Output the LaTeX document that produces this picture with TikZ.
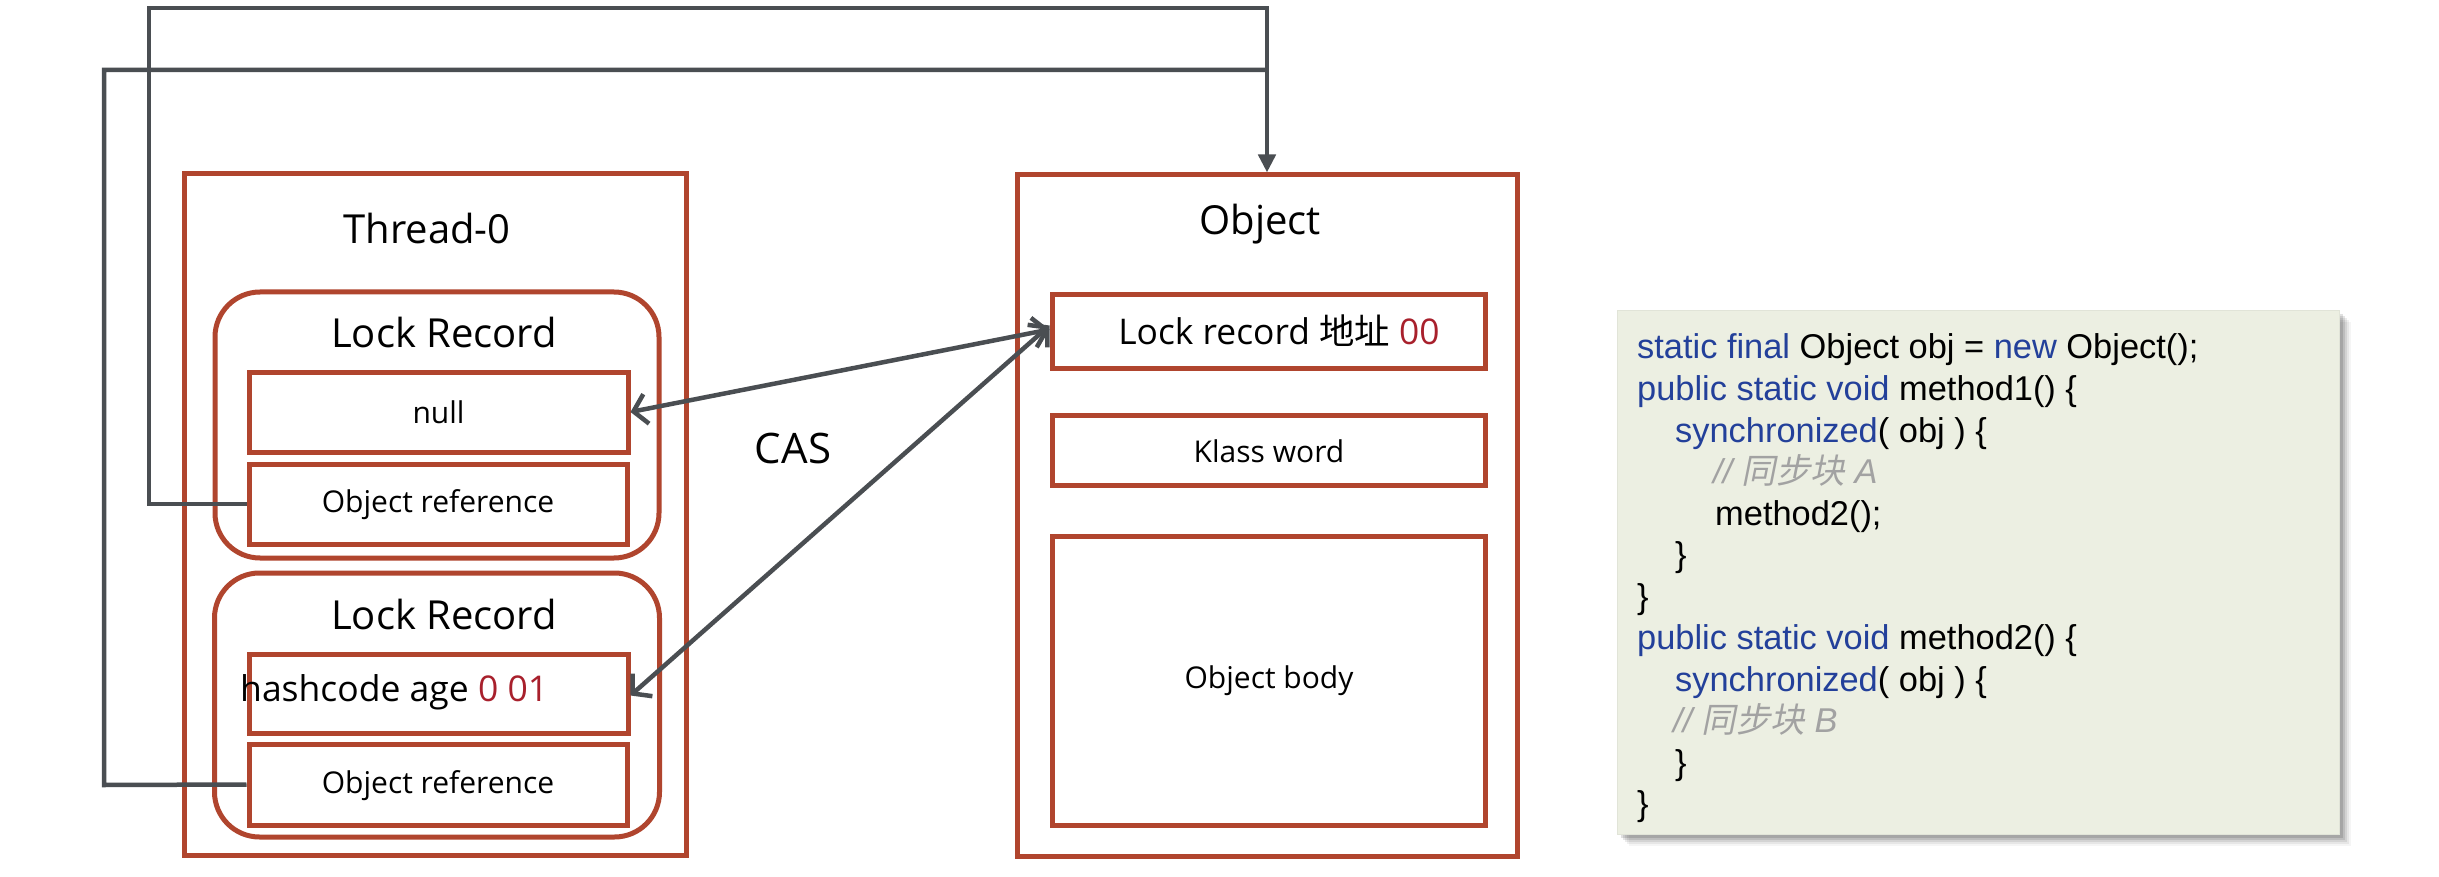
\documentclass[tikz,border=0pt]{standalone}
\usepackage{fontspec}
\setmainfont{Open Sans}
\newfontfamily\cjk{Noto Sans CJK SC}
\newfontfamily\codefont{Liberation Sans}
\newfontfamily\cjkslant[FakeSlant=0.2]{Noto Sans CJK SC}
\usetikzlibrary{arrows.meta,calc}
\definecolor{boxred}{HTML}{B0452E}
\definecolor{connc}{HTML}{4A4E52}
\definecolor{kw}{HTML}{23409A}
\definecolor{cmt}{HTML}{A2A2A2}
\definecolor{codebg}{HTML}{ECEFE2}
\definecolor{valred}{HTML}{A8202C}
\newcommand\kwd[1]{\textcolor{kw}{#1}}
\newcommand\fsz[1]{\fontsize{#1pt}{#1pt}\selectfont}
\begin{document}
\begin{tikzpicture}[x=1pt,y=-1pt,
  redbox/.style={draw=boxred, line width=5pt, fill=white, inner sep=0pt},
  roundbox/.style={redbox, rounded corners=45pt},
  title/.style={inner sep=0pt, font=\fsz{40}},
  small/.style={inner sep=0pt, font=\fsz{30}},
  conn/.style={draw=connc, line width=4.5pt},
  cas/.style={conn, {Straight Barb[length=13pt,width=30pt]}-{Straight Barb[length=13pt,width=30pt]}},
  codeline/.style={anchor=base west, inner sep=0pt, font=\codefont\fsz{34.4}}
]
\useasboundingbox (0,0) rectangle (2439,877);
\fill[white] (0,0) rectangle (2439,877);

% Thread-0 side
\node[redbox, minimum width=502pt, minimum height=681pt] (thread) at (435,514.5) {};
\node[title] (threadt) at (427,229) {Thread-0};
\node[roundbox, minimum width=444pt, minimum height=266pt] (lr1) at (437,425) {};
\node[title] (lr1t) at (444,333) {Lock Record};
\node[redbox, minimum width=379pt, minimum height=80pt] (null) at (438.5,412) {};
\node[small] at (438.5,412) {null};
\node[redbox, minimum width=378pt, minimum height=80pt] (or1) at (438,504) {};
\node[small] at (438,505) {Object reference};
\node[roundbox, minimum width=445pt, minimum height=264pt] (lr2) at (437,705) {};
\node[title] (lr2t) at (444,614) {Lock Record};
\node[redbox, minimum width=379pt, minimum height=79pt] (hash) at (438.5,693.5) {};
\node[inner sep=0pt, anchor=west, font=\fsz{35.5}] (hasht) at (240,692) {hashcode age \textcolor{valred}{0 01}};
\node[redbox, minimum width=378pt, minimum height=81pt] (or2) at (438,784.5) {};
\node[small] at (438,786) {Object reference};

% Object side
\node[redbox, minimum width=500pt, minimum height=681pt] (obj) at (1267,515.5) {};
\node[title] (objt) at (1260,224) {Object};
\node[redbox, minimum width=433pt, minimum height=73pt] (lrec) at (1268.5,331.5) {};
\node[inner sep=0pt, font=\fsz{35.4}] at (1279,331) {Lock record {\cjk 地址} \textcolor{valred}{00}};
\node[redbox, minimum width=433pt, minimum height=70pt] (klass) at (1268.5,450) {};
\node[small] at (1269,451) {Klass word};
\node[redbox, minimum width=433pt, minimum height=289pt] (body) at (1268.5,680.5) {};
\node[small] at (1269,681) {Object body};

\node[inner sep=0pt, font=\fsz{42}] (cast) at (793,448) {CAS};

% connectors
\coordinate (a1) at (149,504);
\coordinate (a2) at (149,8);
\coordinate (a3) at (1267,8);
\coordinate (b1) at (104,785);
\coordinate (b2) at (104,70);
\coordinate (b3) at (1267,70);
\draw[conn, line join=miter] (or2.west) -- (b1) -- (b2) -- (b3);
\draw[conn, line join=miter, -{Triangle[length=18pt,width=17pt]}] (or1.west) -- (a1) -- (a2) -- (a3) -- (obj.north);
\draw[cas] (null.east) -- ([yshift=2pt]lrec.west);
\draw[cas] ([yshift=-2pt]hash.east) -- ([yshift=6pt]lrec.west);

% code box
\foreach \d/\o in {12/0.04,10/0.06,8/0.08,6/0.1,4/0.12}{
  \fill[black, opacity=\o] (1617+\d,310+\d) rectangle (2339+\d,834+\d);
}
\node[draw=codebg!90!gray, line width=0.6pt, fill=codebg, minimum width=722pt, minimum height=524pt, inner sep=0pt] (codebox) at (1978,572) {};
\node[codeline] (c1) at (1637,359) {\kwd{static final} Object obj = \kwd{new} Object();};
\node[codeline] (c2) at (1637,400.5) {\kwd{public static void} method1() \{};
\node[codeline] (c3) at (1675,442) {\kwd{synchronized}( obj ) \{};
\node[codeline] (c4) at (1713,483.5) {\color{cmt}\itshape // {\cjkslant 同步块} A};
\node[codeline] (c5) at (1715,525) {method2();};
\node[codeline] (c6) at (1675,566.5) {\}};
\node[codeline] (c7) at (1637,608) {\}};
\node[codeline] (c8) at (1637,649.5) {\kwd{public static void} method2() \{};
\node[codeline] (c9) at (1675,691) {\kwd{synchronized}( obj ) \{};
\node[codeline] (c10) at (1673,732.5) {\color{cmt}\itshape // {\cjkslant 同步块} B};
\node[codeline] (c11) at (1675,774) {\}};
\node[codeline] (c12) at (1637,815.5) {\}};
\end{tikzpicture}
\end{document}
